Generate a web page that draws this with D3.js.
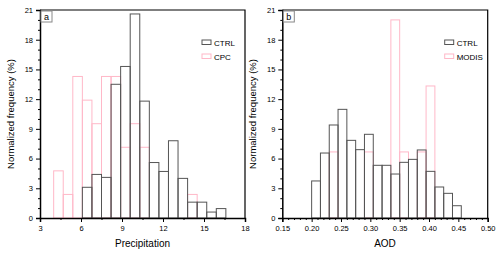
<!DOCTYPE html>
<html><head><meta charset="utf-8">
<script src="https://cdn.jsdelivr.net/npm/d3@7"></script>
<style>body{margin:0;background:#fff}svg{display:block;font-family:"Liberation Sans",Arial,sans-serif}</style>
</head><body><svg id="c" width="500" height="256"></svg>
<script>
// Panel a: precipitation histograms (bin width 0.7)
const precipBinStart = 4.0;
const precipBinWidth = 0.7;
const ctrlPrecip = [0, 0, 0, 3.1, 4.4, 4.1, 13.5, 15.3, 20.6, 11.8, 5.6, 4.7, 7.8, 4.0, 1.6, 1.6, 0.6, 0.95];
const cpcPrecip  = [4.76, 2.38, 14.29, 11.9, 9.52, 14.29, 14.29, 7.14, 9.52, 7.14, 0, 0, 0, 0, 2.38, 0, 0, 0];
// Panel b: AOD histograms (bin width 0.015)
const aodBinStart = 0.2;
const aodBinWidth = 0.015;
const ctrlAOD  = [3.74, 6.56, 9.39, 10.97, 7.84, 6.9, 8.45, 5.32, 5.32, 4.44, 5.62, 5.92, 6.87, 4.71, 3.13, 2.49, 1.24];
const modisAOD = [0, 0, 6.67, 0, 0, 0, 6.67, 0, 0, 20.0, 6.67, 0, 6.67, 13.33, 0, 0, 0];
const precipTicks = [3, 6, 9, 12, 15, 18];
const aodTicks = ["0.15","0.20","0.25","0.30","0.35","0.40","0.45","0.50"];
const yTicks = [0, 3, 6, 9, 12, 15, 18, 21];

const svg = d3.select("#c");
const plotTop = 10, plotBottom = 218;
const y = d3.scaleLinear().domain([0, 21]).range([plotBottom, plotTop]);

function panel(opt) {
  const g = svg.append("g");
  const x = d3.scaleLinear().domain(opt.xdom).range([opt.x0, opt.x1]);
  function bars(vals, start, w, color) {
    const data = vals.map((v, i) => ({a: start + i * w, b: start + (i + 1) * w, v})).filter(d => d.v > 0);
    g.append("g").selectAll("rect").data(data).join("rect")
      .attr("x", d => x(d.a)).attr("width", d => x(d.b) - x(d.a))
      .attr("y", d => y(d.v)).attr("height", d => y(0) - y(d.v))
      .attr("fill", "none").attr("stroke", color).attr("stroke-width", 1);
  }
  bars(opt.s2, opt.start, opt.w, "#ffb8c8");
  bars(opt.s1, opt.start, opt.w, "#555");
  g.append("path").attr("d", `M${opt.x0},${plotTop}H${opt.x1}V${plotBottom}`).attr("fill","none").attr("stroke","#000").attr("stroke-width",1.2);
  const ya = d3.axisLeft(y).tickValues(yTicks).tickSize(4).tickPadding(3).tickFormat(d3.format("d"));
  const yg = g.append("g").attr("transform", `translate(${opt.x0},0)`).call(ya);
  yg.select(".domain").attr("stroke-width", 1.5);
  const yMinor = d3.range(0, 22).filter(v => v % 3 !== 0);
  g.append("g").attr("transform", `translate(${opt.x0},0)`).call(d3.axisLeft(y).tickValues(yMinor).tickSize(2).tickFormat(""))
    .select(".domain").remove();
  const xa = d3.axisBottom(x).tickValues(opt.ticks.map(Number)).tickSize(4).tickPadding(4)
    .tickFormat((d, i) => opt.ticks[i]);
  const xg = g.append("g").attr("transform", `translate(0,${plotBottom})`).call(xa);
  xg.select(".domain").attr("stroke-width", 1.5);
  g.append("g").attr("transform", `translate(0,${plotBottom})`).call(d3.axisBottom(x).tickValues(opt.minor).tickSize(2).tickFormat(""))
    .select(".domain").remove();
  g.selectAll(".tick text").attr("font-size", 7.5).attr("fill", "#000");
  g.selectAll(".tick line").attr("stroke-width", 1);
  g.append("text").attr("x", (opt.x0 + opt.x1) / 2).attr("y", 247).attr("text-anchor", "middle")
    .attr("font-size", 10).text(opt.xlabel);
  g.append("text").attr("transform", `translate(${opt.x0 - 26},${(plotTop + plotBottom) / 2}) rotate(-90)`)
    .attr("text-anchor", "middle").attr("font-size", 9.5).text("Normalized frequency (%)");
  g.append("rect").attr("x", opt.x0 + 1).attr("y", plotTop + 1).attr("width", 11).attr("height", 11)
    .attr("fill", "#fff").attr("stroke", "#888").attr("stroke-width", 1);
  g.append("text").attr("x", opt.x0 + 6.5).attr("y", plotTop + 10).attr("text-anchor", "middle")
    .attr("font-size", 9).text(opt.letter);
  const lx = opt.x1 - 43;
  [[opt.n1, "#555"], [opt.n2, "#ffb8c8"]].forEach((d, i) => {
    g.append("rect").attr("x", lx).attr("y", 40 + i * 14).attr("width", 9).attr("height", 4.5)
      .attr("fill", "none").attr("stroke", d[1]).attr("stroke-width", 1);
    g.append("text").attr("x", lx + 12).attr("y", 46 + i * 14).attr("font-size", 8).text(d[0]);
  });
}

panel({xdom: [3, 18], x0: 40, x1: 245, s1: ctrlPrecip, s2: cpcPrecip, start: precipBinStart, w: precipBinWidth,
  ticks: precipTicks.map(String), minor: d3.range(4.5, 18, 3), xlabel: "Precipitation", letter: "a", n1: "CTRL", n2: "CPC"});
panel({xdom: [0.15, 0.50], x0: 282.3, x1: 487.7, s1: ctrlAOD, s2: modisAOD, start: aodBinStart, w: aodBinWidth,
  ticks: aodTicks, minor: d3.range(16, 50).filter(v => v % 5 !== 0).map(v => v / 100), xlabel: "AOD", letter: "b", n1: "CTRL", n2: "MODIS"});
</script></body></html>
